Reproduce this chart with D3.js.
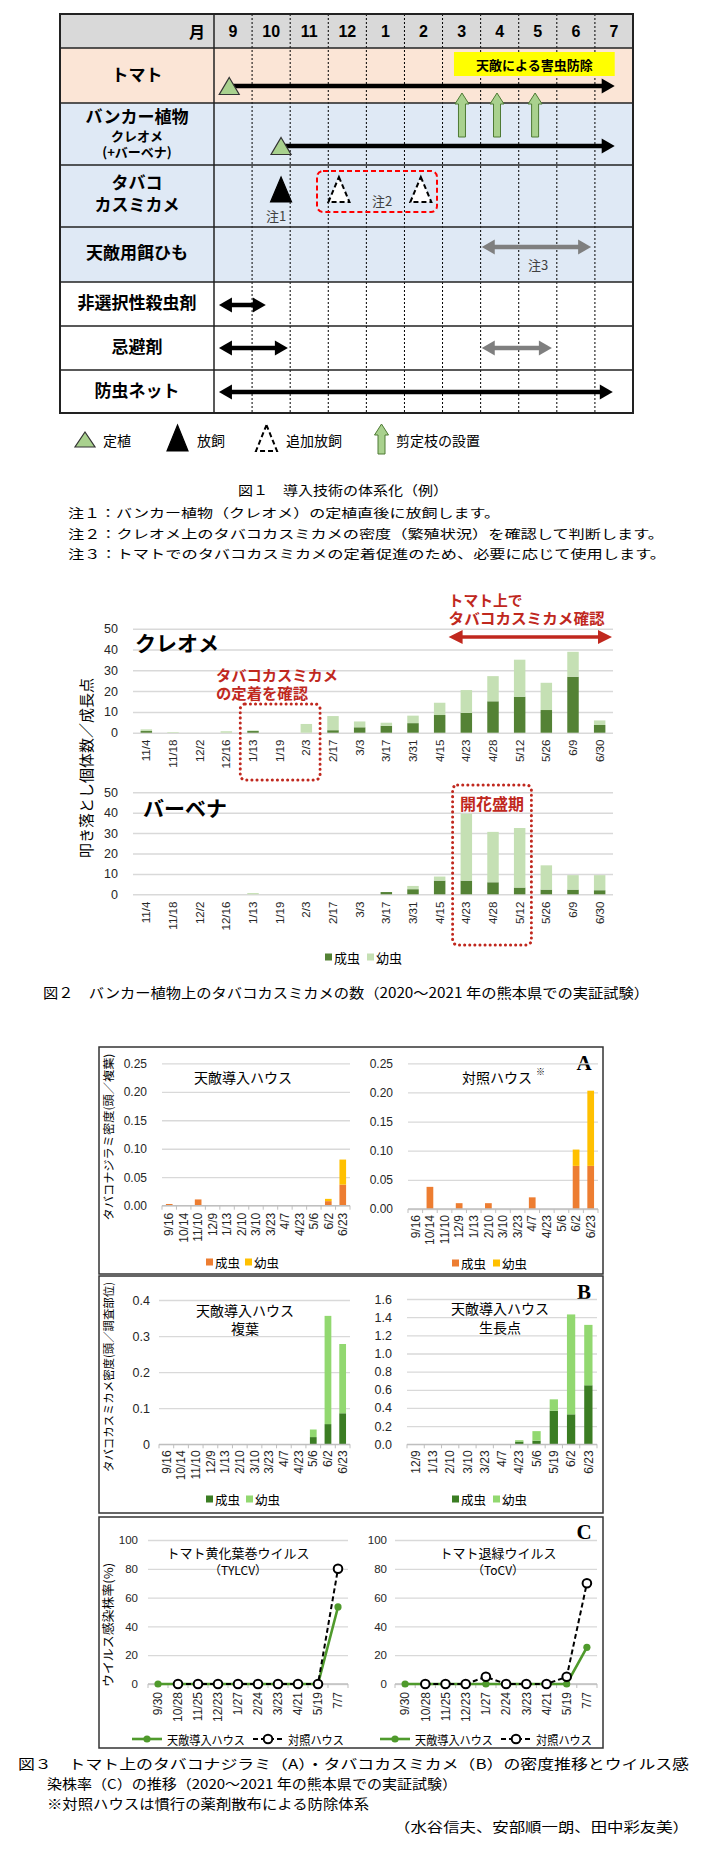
<!DOCTYPE html>
<html><head><meta charset="utf-8">
<script src="https://cdn.jsdelivr.net/npm/d3@7"></script>
<style>body{margin:0;background:#fff}svg{display:block}</style>
</head><body><svg id="c" width="705" height="1850"></svg>
<script>
// ================= DATA =================
// Figure 1
const f1Months = ["9","10","11","12","1","2","3","4","5","6","7"];
const f1RowLabels = [["トマト"],["バンカー植物","クレオメ","(+バーベナ)"],["タバコ","カスミカメ"],["天敵用餌ひも"],["非選択性殺虫剤"],["忌避剤"],["防虫ネット"]];
// positions in months from start of September
const f1Planting = [{row:0, m:0.4},{row:1, m:1.76}];
const f1Release = [{row:2, m:1.76}];
const f1ExtraRelease = [{row:2, m:3.28},{row:2, m:5.43}];
const f1Pruning = [6.51, 7.43, 8.43];
const f1Periods = [
  {row:0, from:0.4, to:10.52, both:false, kind:"main"},
  {row:1, from:1.76, to:10.52, both:false, kind:"main"},
  {row:3, from:7.03, to:9.9, both:true, kind:"option"},
  {row:4, from:0.13, to:1.36, both:true, kind:"main"},
  {row:5, from:0.13, to:1.94, both:true, kind:"main"},
  {row:5, from:7.03, to:8.87, both:true, kind:"option"},
  {row:6, from:0.13, to:10.47, both:true, kind:"main"}];
const f1Biocontrol = {from:6.3, to:10.52, label:"天敵による害虫防除"};
const f1Legend = ["定植","放飼","追加放飼","剪定枝の設置"];
const f1Caption = "図１　導入技術の体系化（例）";
const f1Notes = ["注１：バンカー植物（クレオメ）の定植直後に放飼します。",
  "注２：クレオメ上のタバコカスミカメの密度（繁殖状況）を確認して判断します。",
  "注３：トマトでのタバコカスミカメの定着促進のため、必要に応じて使用します。"];

// Figure 2
const f2Dates = ["11/4","11/18","12/2","12/16","1/13","1/19","2/3","2/17","3/3","3/17","3/31","4/15","4/23","4/28","5/12","5/26","6/9","6/30"];
const cleomeAdult = [0.8,0,0,0,0.8,0,0,1.2,2.6,3.3,4.6,8.5,9.5,15.1,17.3,10.9,26.9,3.7];
const cleomeNymph = [0.8,0.3,0,0.7,0.3,0,4.2,6.8,2.8,1.5,3.6,5.9,11.0,12.1,17.8,13.1,12.0,2.2];
const verbenaAdult = [0,0,0,0,0,0,0,0,0,1.1,2.5,6.7,6.7,5.9,3.3,2.3,2.3,2.0];
const verbenaNymph = [0,0,0,0,0.6,0,0,0,0,0,1.6,2.0,32.8,24.7,29.2,11.9,7.1,7.4];
const f2Ticks = [0,10,20,30,40,50];
const f2Caption = "図２　バンカー植物上のタバコカスミカメの数（2020～2021 年の熊本県での実証試験）";

// Figure 3A (タバコナジラミ)
const aDates = ["9/16","10/14","11/10","12/9","1/13","2/10","3/10","3/23","4/7","4/23","5/6","6/2","6/23"];
const aTreatAdult = [0.003,0,0.011,0,0,0,0,0,0,0,0,0.008,0.037];
const aTreatNymph = [0,0,0,0,0,0,0,0,0,0,0,0.004,0.044];
const aCtrlAdult = [0,0.038,0,0.01,0,0.01,0,0,0.02,0,0,0.074,0.074];
const aCtrlNymph = [0,0,0,0,0,0,0,0,0,0,0,0.028,0.129];
const aTicks = [0,0.05,0.10,0.15,0.20,0.25];
// Figure 3B (タバコカスミカメ)
const bLeafDates = aDates;
const bLeafAdult = [0,0,0,0,0,0,0,0,0,0,0.020,0.056,0.086];
const bLeafNymph = [0,0,0,0,0,0,0,0,0,0,0.021,0.300,0.192];
const bLeafTicks = [0,0.1,0.2,0.3,0.4];
const bTipDates = ["12/9","1/13","2/10","3/10","3/23","4/7","4/23","5/6","5/19","6/2","6/23"];
const bTipAdult = [0,0,0,0,0,0,0.03,0.04,0.37,0.33,0.65];
const bTipNymph = [0,0,0,0,0,0,0.015,0.105,0.125,1.10,0.665];
const bTipTicks = [0,0.2,0.4,0.6,0.8,1.0,1.2,1.4,1.6];
// Figure 3C (ウイルス感染株率)
const cDates = ["9/30","10/28","11/25","12/23","1/27","2/24","3/23","4/21","5/19","7/7"];
const tylcvTreat = [0,0,0,0,0,0,0,0,0,53.5];
const tylcvCtrl = [null,0,0,0,0,0,0,0,0,80];
const tocvTreat = [0,0,0,0,0,0,0,0,0,25.5];
const tocvCtrl = [null,0,0,0,5,0,0,0,5,70];
const cTicks = [0,20,40,60,80,100];
const f3Caption = ["図３　トマト上のタバコナジラミ（A）・タバコカスミカメ（B）の密度推移とウイルス感",
  "染株率（C）の推移（2020～2021 年の熊本県での実証試験）",
  "※対照ハウスは慣行の薬剤散布による防除体系",
  "（水谷信夫、安部順一朗、田中彩友美）"];

// ================= DRAW =================
const JP = '"Noto Sans CJK JP","Noto Sans",sans-serif';
const LAT = '"Liberation Sans",Arial,sans-serif';
const svg = d3.select("#c");
svg.append("rect").attr("width",705).attr("height",1850).attr("fill","#fff");

function txt(g, x, y, s, size, opt={}){
  const t = g.append("text").attr("x",x).attr("y",y).text(s)
    .style("font-family", opt.font||JP).style("font-size", size+"px")
    .style("font-weight", opt.bold?"bold":"normal")
    .attr("fill", opt.fill||"#000").attr("text-anchor", opt.anchor||"start")
    .attr("dominant-baseline", opt.base||"auto");
  if(opt.len) t.attr("textLength",opt.len).attr("lengthAdjust","spacingAndGlyphs");
  return t;
}
// multi-line text as one element; lines: [{s, y(center), size}]
function mtext(g, x, lines, opt={}){
  const t = g.append("text").style("font-family", opt.font||JP)
    .style("font-weight", opt.bold?"bold":"normal")
    .attr("fill", opt.fill||"#000").attr("text-anchor", opt.anchor||"start");
  lines.forEach(l=>t.append("tspan").attr("x",x).attr("y",l.y+0.36*l.size).style("font-size",l.size+"px").text(l.s));
  return t;
}

// ---------- Figure 1 ----------
(function(){
  const g = svg.append("g");
  const xm = d3.scaleLinear().domain([0, f1Months.length]).range([214, 633]);
  const bounds = [14,48,103,165,227,282,326,370,413];
  const fills = ["#d9d9d9","#fbe5d6","#dfe9f5","#dfe9f5","#dfe9f5","#ffffff","#ffffff","#ffffff"];
  const arrowY = [86,146,189.5,247,305,348,392];
  for(let i=0;i<8;i++) g.append("rect").attr("x",60).attr("y",bounds[i]).attr("width",573).attr("height",bounds[i+1]-bounds[i]).attr("fill",fills[i]);
  g.selectAll(null).data(d3.range(1,f1Months.length)).join("line")
    .attr("x1",d=>xm(d)).attr("x2",d=>xm(d)).attr("y1",14).attr("y2",413)
    .attr("stroke","#000").attr("stroke-width",1).attr("stroke-dasharray","2,2");
  g.selectAll(null).data(bounds.slice(1,-1)).join("line")
    .attr("x1",60).attr("x2",633).attr("y1",d=>d).attr("y2",d=>d).attr("stroke","#222").attr("stroke-width",1.5);
  g.append("line").attr("x1",214).attr("x2",214).attr("y1",14).attr("y2",413).attr("stroke","#222").attr("stroke-width",1.5);
  g.append("rect").attr("x",60).attr("y",14).attr("width",573).attr("height",399).attr("fill","none").attr("stroke","#222").attr("stroke-width",2);
  txt(g,205,31,"月",16,{bold:true,anchor:"end",base:"central"});
  g.selectAll(null).data(f1Months).join("text").attr("x",(d,i)=>xm(i+0.5)).attr("y",31).text(d=>d)
    .attr("text-anchor","middle").attr("dominant-baseline","central")
    .style("font-family",LAT).style("font-size","16px").style("font-weight","bold");
  const labY = [[75],[117,136,152],[183,205],[253],[303],[347],[391]];
  const labS = [[17],[17,13,13],[17,17],[17],[17],[17],[17]];
  f1RowLabels.forEach((lines,r)=>mtext(g,137,lines.map((s,k)=>({s,y:labY[r][k],size:labS[r][k]})),{bold:true,anchor:"middle"}));
  g.append("rect").attr("x",xm(f1Biocontrol.from)).attr("y",52).attr("width",xm(f1Biocontrol.to)-xm(f1Biocontrol.from)).attr("height",24).attr("fill","#ffff00");
  txt(g,(xm(f1Biocontrol.from)+xm(f1Biocontrol.to))/2,64.5,f1Biocontrol.label,13,{anchor:"middle",base:"central",bold:true});
  function hArrow(x1,x2,y,color,both){
    const hl=13, hh=7.5;
    g.append("line").attr("x1",both?x1+hl-2:x1).attr("x2",x2-hl+2).attr("y1",y).attr("y2",y).attr("stroke",color).attr("stroke-width",4.5);
    g.append("path").attr("d",`M${x2},${y}L${x2-hl},${y-hh}L${x2-hl},${y+hh}Z`).attr("fill",color);
    if(both) g.append("path").attr("d",`M${x1},${y}L${x1+hl},${y-hh}L${x1+hl},${y+hh}Z`).attr("fill",color);
  }
  f1Periods.forEach(p=>hArrow(xm(p.from),xm(p.to),arrowY[p.row],p.kind==="main"?"#000":"#7f7f7f",p.both));
  function tri(gg,cx,cy,h,w,fill,stroke,dash){
    gg.append("path").attr("d",`M${cx},${cy-h/2}L${cx+w/2},${cy+h/2}L${cx-w/2},${cy+h/2}Z`)
      .attr("fill",fill).attr("stroke",stroke).attr("stroke-width",dash?2:1.2)
      .attr("stroke-dasharray",dash?"5,3":null).attr("stroke-linejoin","miter");
  }
  f1Planting.forEach(p=>tri(g,xm(p.m),arrowY[p.row],17,20,"#a9d18e","#333",false));
  f1Release.forEach(p=>tri(g,xm(p.m),arrowY[p.row],25,21,"#000","#000",false));
  f1ExtraRelease.forEach(p=>tri(g,xm(p.m),arrowY[p.row],25,21,"#fff","#000",true));
  function upArrow(gg,cx,top,bot){
    gg.append("path").attr("d",`M${cx},${top}L${cx+7},${top+11}L${cx+3.5},${top+11}L${cx+3.5},${bot}L${cx-3.5},${bot}L${cx-3.5},${top+11}L${cx-7},${top+11}Z`)
      .attr("fill","#a9d18e").attr("stroke","#4e7a34").attr("stroke-width",1);
  }
  f1Pruning.forEach(m=>upArrow(g,xm(m),93,137));
  g.append("rect").attr("x",317).attr("y",171).attr("width",120).attr("height",41).attr("rx",6)
    .attr("fill","none").attr("stroke","#ff0000").attr("stroke-width",2).attr("stroke-dasharray","5,3");
  txt(g,xm(f1Release[0].m)-5,215,"注1",13,{anchor:"middle",base:"central",fill:"#404040"});
  txt(g,382,200,"注2",13,{anchor:"middle",base:"central",fill:"#404040"});
  txt(g,538,264,"注3",13,{anchor:"middle",base:"central",fill:"#404040"});
  const lg = svg.append("g");
  tri(lg,85,439.5,15,20,"#a9d18e","#333",false);
  txt(lg,103,440,f1Legend[0],14,{base:"central"});
  tri(lg,177.5,438,26,21,"#000","#000",false);
  txt(lg,197,440,f1Legend[1],14,{base:"central"});
  tri(lg,266.5,438,26,21,"#fff","#000",true);
  txt(lg,286,440,f1Legend[2],14,{base:"central"});
  upArrow(lg,381.5,424,454);
  txt(lg,396,440,f1Legend[3],14,{base:"central"});
  txt(svg,343,489,f1Caption,13,{anchor:"middle",base:"central",len:210});
  const nl=[432,596,598];
  f1Notes.forEach((s,i)=>txt(svg,68,512.5+i*20.7,s,12.5,{base:"central",len:nl[i]}));
})();

// ---------- generic stacked bar panel ----------
function barPanel(g,o){
  const x = d3.scaleBand().domain(o.cats).range([o.x0,o.x1]).paddingInner(o.pad).paddingOuter(o.pad/2);
  const y = d3.scaleLinear().domain([0,o.ymax]).range([o.yb,o.yt]);
  const gr = g.append("g").attr("transform",`translate(${o.x0},0)`)
    .call(d3.axisLeft(y).tickValues(o.ticks).tickSize(-(o.x1-o.x0)).tickFormat(""));
  gr.select(".domain").remove();
  gr.selectAll("line").attr("stroke","#d9d9d9").attr("stroke-width",o.gw||1.3);
  const rows = o.cats.map((c,i)=>({cat:c,adult:o.adult[i],nymph:o.nymph[i]}));
  const series = d3.stack().keys(["adult","nymph"])(rows);
  series.forEach((s,k)=>{
    g.selectAll(null).data(s.filter(d=>d[1]>d[0])).join("rect")
      .attr("x",d=>x(d.data.cat)).attr("width",x.bandwidth())
      .attr("y",d=>y(d[1])).attr("height",d=>y(d[0])-y(d[1])).attr("fill",o.colors[k]);
  });
  if(o.axisTicks){
    g.append("line").attr("x1",o.x0).attr("x2",o.x1).attr("y1",o.yb).attr("y2",o.yb).attr("stroke","#bfbfbf").attr("stroke-width",1.3);
    g.selectAll(null).data(d3.range(o.cats.length+1)).join("line")
      .attr("x1",d=>o.x0+d*x.step()).attr("x2",d=>o.x0+d*x.step()).attr("y1",o.yb).attr("y2",o.yb+4)
      .attr("stroke","#bfbfbf").attr("stroke-width",1);
  }
  const ya = g.append("g").attr("transform",`translate(${o.x0-o.yPad},0)`)
    .call(d3.axisLeft(y).tickValues(o.ticks).tickSize(0).tickPadding(0).tickFormat(o.fmt));
  ya.select(".domain").remove();
  ya.selectAll("text").style("font-family",LAT).style("font-size",o.yFont+"px").attr("fill","#262626");
  const xa = g.append("g").attr("transform",`translate(0,${o.yb})`).call(d3.axisBottom(x).tickSize(0).tickPadding(0));
  xa.select(".domain").remove();
  xa.selectAll("text").attr("transform","rotate(-90)").attr("text-anchor","end")
    .attr("x",-o.xPad).attr("y",0).attr("dy","0.35em")
    .style("font-family",LAT).style("font-size",o.xFont+"px").attr("fill","#262626");
  return {x,y};
}

// ---------- Figure 2 ----------
(function(){
  const g = svg.append("g");
  const cols = ["#548235","#c5e0b4"];
  const c = barPanel(g,{cats:f2Dates,adult:cleomeAdult,nymph:cleomeNymph,x0:133,x1:613,yb:732.7,yt:628.7,ymax:50,
    ticks:f2Ticks,fmt:d3.format("d"),colors:cols,pad:0.57,yPad:15,yFont:12.5,xPad:7,xFont:11.5,gw:1.5});
  const v = barPanel(g,{cats:f2Dates,adult:verbenaAdult,nymph:verbenaNymph,x0:133,x1:613,yb:894.3,yt:792.3,ymax:50,
    ticks:f2Ticks,fmt:d3.format("d"),colors:cols,pad:0.57,yPad:15,yFont:12.5,xPad:7.4,xFont:11.5,gw:1.5});
  txt(g,135,642,"クレオメ",21,{bold:true,base:"central"});
  txt(g,143,807,"バーベナ",21,{bold:true,base:"central"});
  txt(g,85,768,"叩き落とし個体数／成長点",15,{anchor:"middle",base:"central",len:180}).attr("transform","rotate(-90,85,768)");
  const red = "#c0281e";
  const ax1 = c.x("4/23")-12, ax2 = 612;
  txt(g,ax1,599,"トマト上で",15,{bold:true,fill:red,base:"central",len:74});
  txt(g,ax1,617,"タバコカスミカメ確認",15,{bold:true,fill:red,base:"central",len:156});
  g.append("line").attr("x1",ax1+12).attr("x2",ax2-12).attr("y1",637).attr("y2",637).attr("stroke",red).attr("stroke-width",3.5);
  g.append("path").attr("d",`M${ax1},637L${ax1+14},630L${ax1+14},644Z M${ax2},637L${ax2-14},630L${ax2-14},644Z`).attr("fill",red);
  const bx1 = c.x("1/13")-7, bx2 = c.x("2/3")+c.x.bandwidth()+8;
  g.append("rect").attr("x",bx1).attr("y",704).attr("width",bx2-bx1).attr("height",76).attr("rx",5)
    .attr("fill","none").attr("stroke",red).attr("stroke-width",3).attr("stroke-dasharray","0.1,5").attr("stroke-linecap","round");
  txt(g,216,674,"タバコカスミカメ",15,{bold:true,fill:red,base:"central",len:122});
  txt(g,216,692,"の定着を確認",15,{bold:true,fill:red,base:"central",len:92});
  const fx1 = v.x("4/23")-8, fx2 = v.x("5/12")+v.x.bandwidth()+6;
  g.append("rect").attr("x",fx1).attr("y",785).attr("width",fx2-fx1).attr("height",160).attr("rx",5)
    .attr("fill","none").attr("stroke",red).attr("stroke-width",3).attr("stroke-dasharray","0.1,5").attr("stroke-linecap","round");
  txt(g,(fx1+fx2)/2,803,"開花盛期",16,{bold:true,fill:red,anchor:"middle",base:"central"});
  g.append("rect").attr("x",325).attr("y",953.5).attr("width",7).attr("height",7).attr("fill",cols[0]);
  txt(g,334,957,"成虫",13,{base:"central"});
  g.append("rect").attr("x",367).attr("y",953.5).attr("width",7).attr("height",7).attr("fill",cols[1]);
  txt(g,376,957,"幼虫",13,{base:"central"});
  txt(svg,43,992,f2Caption,14,{base:"central",len:606});
})();

// ---------- Figure 3 ----------
(function(){
  const g = svg.append("g");
  [[1047,1274],[1276,1513],[1517,1748]].forEach(b=>g.append("rect").attr("x",99).attr("y",b[0]).attr("width",504).attr("height",b[1]-b[0])
    .attr("fill","none").attr("stroke","#333").attr("stroke-width",1.5));
  const panelLetter=(s,y)=>txt(g,584,y,s,21,{bold:true,anchor:"middle",base:"central",font:'"Liberation Serif","Times New Roman",serif'});
  panelLetter("A",1063); panelLetter("B",1292); panelLetter("C",1532);
  const orng=["#ed7d31","#ffc000"], grn=["#3b7d23","#92d870"];
  const legend=(x,y,cols,gap)=>{
    g.append("rect").attr("x",x).attr("y",y-3.5).attr("width",7).attr("height",7).attr("fill",cols[0]);
    txt(g,x+9,y,"成虫",12.5,{base:"central"});
    g.append("rect").attr("x",x+gap).attr("y",y-3.5).attr("width",7).attr("height",7).attr("fill",cols[1]);
    txt(g,x+gap+9,y,"幼虫",12.5,{base:"central"});
  };
  const f2=d3.format(".2f");
  barPanel(g,{cats:aDates,adult:aTreatAdult,nymph:aTreatNymph,x0:162,x1:350,yb:1205.7,yt:1063.3,ymax:0.25,ticks:aTicks,fmt:f2,
    colors:orng,pad:0.54,yPad:15,yFont:12,xPad:7,xFont:12,axisTicks:true});
  barPanel(g,{cats:aDates,adult:aCtrlAdult,nymph:aCtrlNymph,x0:408,x1:598,yb:1209,yt:1063.3,ymax:0.25,ticks:aTicks,fmt:f2,
    colors:orng,pad:0.54,yPad:15,yFont:12,xPad:6,xFont:12,axisTicks:true});
  txt(g,243,1077,"天敵導入ハウス",14,{anchor:"middle",base:"central"});
  txt(g,497,1077,"対照ハウス",14,{anchor:"middle",base:"central"});
  txt(g,536,1071,"※",9,{base:"central"});
  txt(g,108,1137,"タバコナジラミ密度(頭／複葉)",11.5,{anchor:"middle",base:"central",len:167}).attr("transform","rotate(-90,108,1137)");
  legend(206,1262,orng,39); legend(452,1263,orng,41);
  barPanel(g,{cats:bLeafDates,adult:bLeafAdult,nymph:bLeafNymph,x0:159,x1:350,yb:1444.3,yt:1300,ymax:0.4,ticks:bLeafTicks,
    fmt:d=>d===0?"0":d3.format(".1f")(d),colors:grn,pad:0.54,yPad:9,yFont:12.5,xPad:6,xFont:12,axisTicks:true});
  barPanel(g,{cats:bTipDates,adult:bTipAdult,nymph:bTipNymph,x0:407,x1:597,yb:1444.3,yt:1299,ymax:1.6,ticks:bTipTicks,
    fmt:d3.format(".1f"),colors:grn,pad:0.52,yPad:15,yFont:12.5,xPad:6,xFont:12,axisTicks:true});
  mtext(g,245,[{s:"天敵導入ハウス",y:1311,size:14},{s:"複葉",y:1329,size:14}],{anchor:"middle"});
  mtext(g,500,[{s:"天敵導入ハウス",y:1309,size:14},{s:"生長点",y:1328,size:14}],{anchor:"middle"});
  txt(g,108,1377,"タバコカスミカメ密度(頭／調査部位)",11.5,{anchor:"middle",base:"central",len:190}).attr("transform","rotate(-90,108,1377)");
  legend(206,1499,grn,40); legend(452,1499,grn,41);
  function linePanel(o){
    const x = d3.scaleBand().domain(cDates).range([o.x0,o.x1]);
    const y = d3.scaleLinear().domain([0,100]).range([1684,1540]);
    const gr = g.append("g").attr("transform",`translate(${o.x0},0)`).call(d3.axisLeft(y).tickValues(cTicks).tickSize(-(o.x1-o.x0)).tickFormat(""));
    gr.select(".domain").remove(); gr.selectAll("line").attr("stroke","#d9d9d9").attr("stroke-width",1.3);
    g.append("line").attr("x1",o.x0).attr("x2",o.x1).attr("y1",1684).attr("y2",1684).attr("stroke","#bfbfbf").attr("stroke-width",1.3);
    g.selectAll(null).data(d3.range(cDates.length+1)).join("line")
      .attr("x1",d=>o.x0+d*x.step()).attr("x2",d=>o.x0+d*x.step()).attr("y1",1684).attr("y2",1688).attr("stroke","#bfbfbf");
    const ya = g.append("g").attr("transform",`translate(${o.x0-o.yPad},0)`).call(d3.axisLeft(y).tickValues(cTicks).tickSize(0).tickPadding(0));
    ya.select(".domain").remove(); ya.selectAll("text").style("font-family",LAT).style("font-size","11.5px").attr("fill","#262626");
    const xa = g.append("g").attr("transform","translate(0,1684)").call(d3.axisBottom(x).tickSize(0).tickPadding(0));
    xa.select(".domain").remove();
    xa.selectAll("text").attr("transform","rotate(-90)").attr("text-anchor","end").attr("x",-8).attr("y",0).attr("dy","0.35em")
      .style("font-family",LAT).style("font-size","12px").attr("fill","#262626");
    const cx = d=>x(d)+x.bandwidth()/2;
    const ln = d3.line().defined(d=>d.v!=null).x(d=>cx(d.c)).y(d=>y(d.v));
    const T = cDates.map((c,i)=>({c,v:o.treat[i]})), C = cDates.map((c,i)=>({c,v:o.ctrl[i]}));
    g.append("path").datum(T).attr("d",ln).attr("fill","none").attr("stroke","#4f9a2c").attr("stroke-width",2.6);
    g.selectAll(null).data(T.filter(d=>d.v!=null)).join("circle").attr("cx",d=>cx(d.c)).attr("cy",d=>y(d.v)).attr("r",3.6).attr("fill","#4f9a2c");
    g.append("path").datum(C).attr("d",ln).attr("fill","none").attr("stroke","#000").attr("stroke-width",2).attr("stroke-dasharray","5,3");
    g.selectAll(null).data(C.filter(d=>d.v!=null)).join("circle").attr("cx",d=>cx(d.c)).attr("cy",d=>y(d.v)).attr("r",4.3)
      .attr("fill","#fff").attr("stroke","#000").attr("stroke-width",2);
    mtext(g,o.tx,[{s:o.t1,y:1553,size:13},{s:o.t2,y:1571,size:12}],{anchor:"middle"});
    const lx=o.lx, ly=1739;
    g.append("line").attr("x1",lx).attr("x2",lx+30).attr("y1",ly).attr("y2",ly).attr("stroke","#4f9a2c").attr("stroke-width",2.6);
    g.append("circle").attr("cx",lx+15).attr("cy",ly).attr("r",3.6).attr("fill","#4f9a2c");
    txt(g,lx+35,ly,"天敵導入ハウス",12,{base:"central",len:78});
    g.append("line").attr("x1",lx+121).attr("x2",lx+150).attr("y1",ly).attr("y2",ly).attr("stroke","#000").attr("stroke-width",2).attr("stroke-dasharray","5,3");
    g.append("circle").attr("cx",lx+136).attr("cy",ly).attr("r",4.3).attr("fill","#fff").attr("stroke","#000").attr("stroke-width",2);
    txt(g,lx+156,ly,"対照ハウス",12,{base:"central",len:56});
  }
  linePanel({x0:148,x1:348,yPad:10,treat:tylcvTreat,ctrl:tylcvCtrl,tx:238,t1:"トマト黄化葉巻ウイルス",t2:"（TYLCV）",lx:132});
  linePanel({x0:395,x1:597,yPad:8,treat:tocvTreat,ctrl:tocvCtrl,tx:498,t1:"トマト退緑ウイルス",t2:"（ToCV）",lx:380});
  txt(g,107,1625,"ウイルス感染株率(%)",12,{anchor:"middle",base:"central",len:124}).attr("transform","rotate(-90,107,1625)");
  txt(svg,18,1763,f3Caption[0],13.5,{base:"central",len:671});
  txt(svg,47,1783,f3Caption[1],13.5,{base:"central",len:410});
  txt(svg,47,1803,f3Caption[2],13.5,{base:"central",len:322});
  txt(svg,394,1826,f3Caption[3],13.5,{base:"central",len:295});
})();
</script></body></html>
